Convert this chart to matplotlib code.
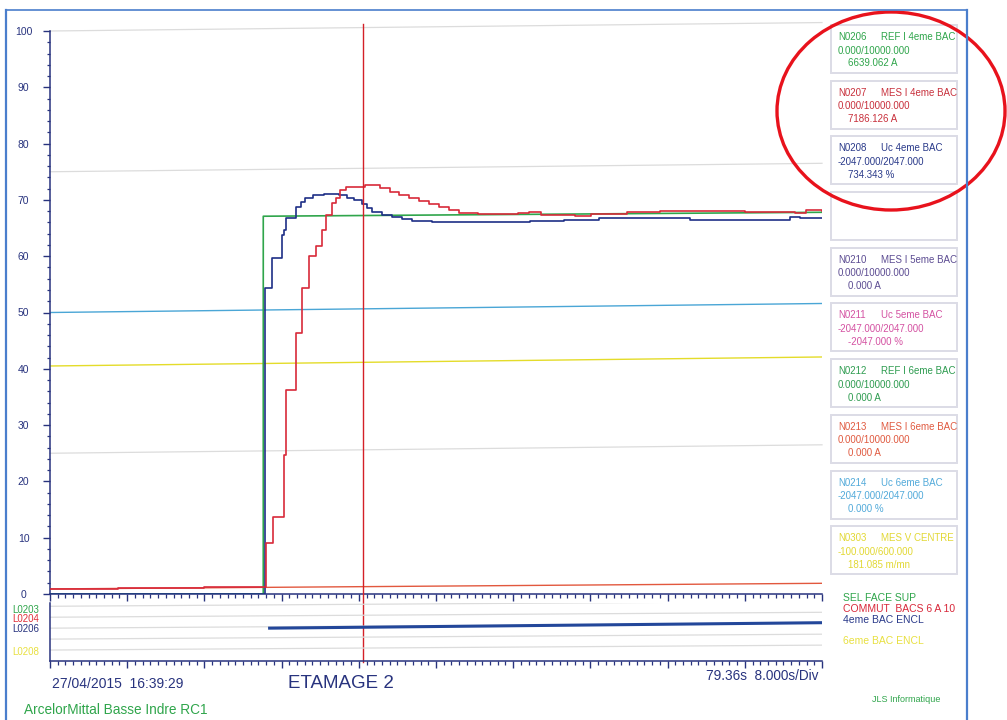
import matplotlib
matplotlib.use('Agg')
import matplotlib.pyplot as plt
from matplotlib.patches import Rectangle, Ellipse
from matplotlib.lines import Line2D
from matplotlib.ticker import MultipleLocator
from matplotlib import transforms

plt.rcParams['font.family'] = ['Liberation Sans', 'DejaVu Sans']

# ---------------- data (time in s, values in % of channel range) ----------------
ref4_t = [0.0, 22.1, 22.1, 80.0]
ref4_v = [0.0, 0.0, 67.1, 67.8]

uc4_t = [0.0, 22.3, 23.0, 24.0, 24.3, 24.5, 25.5, 26.0, 26.4, 27.3, 28.4, 29.9, 30.8,
         31.5, 32.3, 32.8, 33.4, 34.4, 35.4, 36.5, 37.5, 39.6, 49.7, 53.3, 56.9, 66.3,
         76.7, 77.7, 80.0]
uc4_v = [0.0, 54.4, 59.7, 63.8, 64.7, 66.8, 68.7, 69.6, 70.3, 70.9, 71.1, 70.8, 70.4,
         70.0, 69.3, 68.6, 67.9, 67.4, 67.0, 66.6, 66.3, 66.0, 66.2, 66.5, 66.7, 66.5,
         67.0, 66.7, 66.7]

mes4_t = [0.0, 7.0, 16.0, 22.4, 23.1, 24.2, 24.5, 25.5, 26.1, 26.8, 27.6, 28.2, 28.6,
          29.2, 29.6, 30.1, 30.7, 32.6, 33.6, 34.2, 35.2, 36.2, 37.2, 38.2, 39.3, 40.3,
          41.3, 42.4, 44.4, 48.5, 49.6, 50.9, 54.4, 56.1, 59.8, 63.2, 72.0, 77.2, 78.3,
          80.0]
mes4_v = [0.9, 1.05, 1.3, 9.1, 13.7, 24.7, 36.2, 46.4, 54.3, 60.0, 61.8, 64.7, 67.3,
          69.4, 70.3, 71.8, 72.3, 72.7, 72.6, 72.1, 71.4, 70.9, 70.3, 69.8, 69.3, 68.8,
          68.2, 67.7, 67.5, 67.6, 67.85, 67.4, 67.2, 67.5, 67.9, 68.0, 67.9, 67.6, 68.2,
          68.0]

mes6_t = [0.0, 80.0]
mes6_v = [0.9, 1.9]
uc6_t = [0.0, 80.0]
uc6_v = [50.0, 51.6]
vcentre_t = [0.0, 80.0]
vcentre_v = [40.5, 42.1]

encl4_t = [22.6, 80.0]
encl4_v = [3.0, 3.5]

cursor_t = 32.4

y_ticks = [0, 10, 20, 30, 40, 50, 60, 70, 80, 90, 100]
y_ticklabels = [str(v) for v in y_ticks]
grid_levels = [25, 75, 100]
scan_tilt = 1.5

logic_rows = [1, 2, 3, 4, 5]
logic_names = ['L0203', 'L0204', 'L0206', 'L0208']
logic_label_y = [4.7, 3.8, 2.9, 0.8]
logic_right = ['SEL FACE SUP', 'COMMUT  BACS 6 A 10', '4eme BAC ENCL', '6eme BAC ENCL']

box_ids = ['N0206', 'N0207', 'N0208', '', 'N0210', 'N0211', 'N0212', 'N0213', 'N0214', 'N0303']
box_names = ['REF I 4eme BAC', 'MES I 4eme BAC', 'Uc 4eme BAC', '', 'MES I 5eme BAC',
             'Uc 5eme BAC', 'REF I 6eme BAC', 'MES I 6eme BAC', 'Uc 6eme BAC', 'MES V CENTRE']
box_ranges = ['0.000/10000.000', '0.000/10000.000', '-2047.000/2047.000', '',
              '0.000/10000.000', '-2047.000/2047.000', '0.000/10000.000',
              '0.000/10000.000', '-2047.000/2047.000', '-100.000/600.000']
box_values = ['6639.062 A', '7186.126 A', '734.343 %', '', '0.000 A', '-2047.000 %',
              '0.000 A', '0.000 A', '0.000 %', '181.085 m/mn']

# ---------------- styles ----------------
NAVY = '#28337E'
GREEN = '#2FA54B'
RED = '#D82A3A'
BLUE = '#1E2F86'
ORANGE = '#E2583E'
CYAN = '#4AA6D6'
YELLOW = '#E4DC2A'
GRID = '#DCDCDC'
box_colors = [GREEN, '#C8303C', '#2A3A8A', NAVY, '#5C4C92', '#D452A2', '#2E9C50',
              '#E05A40', '#52AADA', '#E2D834']
logic_colors = [GREEN, '#E0303A', NAVY, '#E8E040']
logic_right_colors = [GREEN, '#D8283A', '#2A3A8A', '#E8E040']

W, H = 1007, 720
fig = plt.figure(figsize=(W / 100, H / 100), dpi=100)
fig.patch.set_facecolor('white')


def fx(px):
    return px / W


def fy(py):
    return 1 - py / H


# ---------------- main axes ----------------
ax = fig.add_axes([fx(50), fy(594), fx(822) - fx(50), fy(31) - fy(594)])
ax.set_xlim(0, 80)
ax.set_ylim(0, 100)
for lev in grid_levels:
    ax.plot([0, 80], [lev, lev + scan_tilt], color=GRID, lw=0.9, clip_on=False, zorder=1)

ax.plot(uc6_t, uc6_v, color=CYAN, lw=1.0, zorder=2)
ax.plot(vcentre_t, vcentre_v, color=YELLOW, lw=1.0, zorder=2)
ax.plot(mes6_t, mes6_v, color=ORANGE, lw=1.0, zorder=2)
ax.plot(ref4_t, ref4_v, color=GREEN, lw=1.2, zorder=3)
ax.plot(uc4_t, uc4_v, color=BLUE, lw=1.2, drawstyle='steps-post', zorder=4)
ax.plot(mes4_t, mes4_v, color=RED, lw=1.2, drawstyle='steps-post', zorder=5)

ax.axvline(cursor_t, ymin=-(662 - 594) / 563, ymax=1 + (31 - 24) / 563,
           color='#D42028', lw=1.0, clip_on=False, zorder=6)

for s in ['top', 'right']:
    ax.spines[s].set_visible(False)
for s in ['left', 'bottom']:
    ax.spines[s].set_color(NAVY)
    ax.spines[s].set_linewidth(1.1)
ax.set_yticks(y_ticks)
ax.set_yticklabels(y_ticklabels, ha='center', fontsize=7.5, color=NAVY)
ax.yaxis.set_minor_locator(MultipleLocator(2))
ax.tick_params(axis='y', which='major', length=5, width=1.0, color=NAVY, pad=14)
ax.tick_params(axis='y', which='minor', length=2.5, width=0.9, color=NAVY)
ax.xaxis.set_major_locator(MultipleLocator(8))
ax.xaxis.set_minor_locator(MultipleLocator(0.8))
ax.tick_params(axis='x', which='major', length=5, width=1.0, color=NAVY, labelbottom=False)
ax.tick_params(axis='x', which='minor', length=2.8, width=0.9, color=NAVY)
ax.set_facecolor('none')

# ---------------- logic axes ----------------
lx = fig.add_axes([fx(50), fy(661), fx(822) - fx(50), fy(603) - fy(661)])
lx.set_xlim(0, 80)
lx.set_ylim(0, 5.3)
for r in logic_rows:
    lx.plot([0, 80], [r, r + 0.45], color=GRID, lw=0.9, zorder=1)
lx.plot(encl4_t, encl4_v, color='#23479A', lw=2.2, solid_capstyle='butt', zorder=3)
for s in ['top', 'right']:
    lx.spines[s].set_visible(False)
for s in ['left', 'bottom']:
    lx.spines[s].set_color(NAVY)
    lx.spines[s].set_linewidth(1.1)
lx.set_yticks([])
lx.xaxis.set_major_locator(MultipleLocator(8))
lx.xaxis.set_minor_locator(MultipleLocator(0.8))
lx.tick_params(axis='x', which='major', length=5, width=1.0, color=NAVY, labelbottom=False)
lx.tick_params(axis='x', which='minor', length=2.8, width=0.9, color=NAVY)
lx.set_facecolor('none')
label_tr = transforms.blended_transform_factory(fig.transFigure, lx.transData)
for name, yv, c in zip(logic_names, logic_label_y, logic_colors):
    lx.text(fx(12), yv, name, transform=label_tr, fontsize=7, color=c, va='center',
            clip_on=False)

# ---------------- right panel boxes ----------------
for k in range(len(box_ids)):
    top = 25 + 55.7 * k
    fig.patches.append(Rectangle((fx(831), fy(top + 48)), fx(957) - fx(831), fy(top) - fy(top + 48),
                                 transform=fig.transFigure, fill=False,
                                 edgecolor='#DCDCE6', lw=1.4))
    c = box_colors[k]
    if box_ids[k]:
        fig.text(fx(838), fy(top + 12), box_ids[k], fontsize=7, color=c, va='center')
        fig.text(fx(881), fy(top + 12), box_names[k], fontsize=7, color=c, va='center')
        fig.text(fx(838), fy(top + 25.5), box_ranges[k], fontsize=7, color=c, va='center')
        fig.text(fx(848), fy(top + 38.5), box_values[k], fontsize=7, color=c, va='center')

for txt, py, c in zip(logic_right, [598, 609, 620, 641], logic_right_colors):
    fig.text(fx(843), fy(py), txt, fontsize=7.5, color=c, va='center')

# ---------------- footer texts ----------------
fig.text(fx(52), fy(684), '27/04/2015  16:39:29', fontsize=10, color=NAVY, va='center')
fig.text(fx(288), fy(684), 'ETAMAGE 2', fontsize=13.5, color=NAVY, va='center')
fig.text(fx(818), fy(676), '79.36s  8.000s/Div', fontsize=9.8, color=NAVY, va='center', ha='right')
fig.text(fx(24), fy(710), 'ArcelorMittal Basse Indre RC1', fontsize=9.8, color=GREEN, va='center')
fig.text(fx(872), fy(699), 'JLS Informatique', fontsize=6.5, color=GREEN, va='center')

# ---------------- page frame ----------------
FRAME = '#4A7ECC'
fig.lines.append(Line2D([fx(6), fx(6)], [fy(10), 0], transform=fig.transFigure, color=FRAME, lw=1.6))
fig.lines.append(Line2D([fx(967), fx(967)], [fy(10), 0], transform=fig.transFigure, color=FRAME, lw=1.6))
fig.lines.append(Line2D([fx(6), fx(967)], [fy(10), fy(10)], transform=fig.transFigure, color=FRAME, lw=1.2))

# ---------------- red annotation ellipse ----------------
fig.patches.append(Ellipse((fx(891), fy(111)), fx(228), 198 / H, transform=fig.transFigure,
                           fill=False, edgecolor='#E8121C', lw=2.4))

fig.savefig('out.png', dpi=100)
